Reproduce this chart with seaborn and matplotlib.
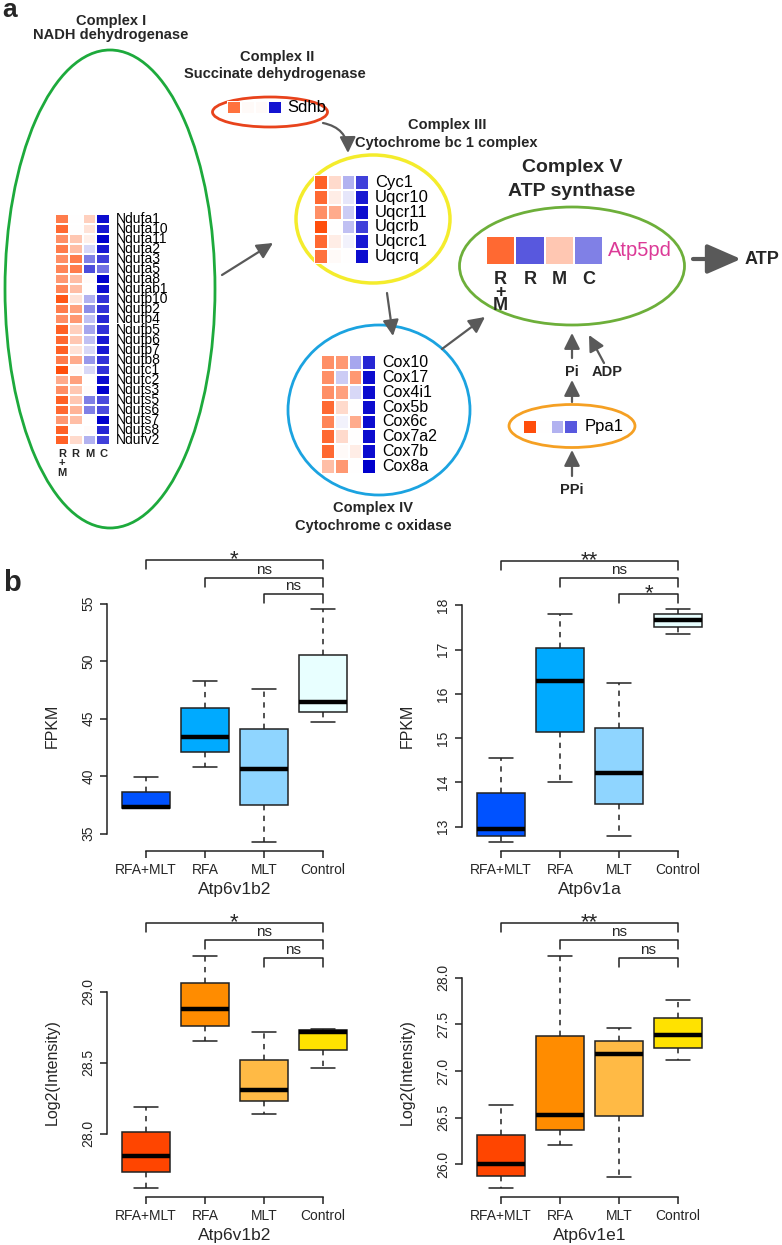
import numpy as np
import pandas as pd
import matplotlib
matplotlib.use("Agg")
import matplotlib.pyplot as plt
import seaborn as sns
from matplotlib.patches import Ellipse, FancyArrowPatch
from matplotlib.colors import LinearSegmentedColormap
from matplotlib import transforms

# ---------------- data ----------------
conds = ["R+M", "R", "M", "C"]

c1_genes = ["Ndufa1", "Ndufa10", "Ndufa11", "Ndufa2", "Ndufa3", "Ndufa5", "Ndufa8",
            "Ndufab1", "Ndufb10", "Ndufb2", "Ndufb4", "Ndufb5", "Ndufb6", "Ndufb7",
            "Ndufb8", "Ndufc1", "Ndufc2", "Ndufs3", "Ndufs5", "Ndufs6", "Ndufs7",
            "Ndufs8", "Ndufv2"]
c1_vals = [[0.70, 0.00, 0.25, -0.95], [0.80, 0.00, 0.15, -0.90], [0.60, 0.30, 0.08, -1.00],
           [0.70, 0.35, -0.15, -0.90], [0.60, 0.70, -0.50, -0.75], [0.65, 0.70, -0.70, -0.55],
           [0.55, 0.35, 0.02, -1.00], [0.65, 0.35, 0.00, -0.95], [0.90, 0.15, -0.30, -0.80],
           [0.70, 0.50, -0.45, -0.80], [0.60, 0.55, -0.25, -0.85], [0.85, 0.25, -0.35, -0.80],
           [0.80, 0.30, -0.25, -0.90], [0.85, 0.15, -0.15, -0.90], [0.70, 0.45, -0.40, -0.80],
           [0.95, 0.03, -0.15, -0.80], [0.45, 0.50, 0.00, -0.95], [0.60, 0.30, 0.02, -1.00],
           [0.85, 0.30, -0.50, -0.70], [0.80, 0.40, -0.50, -0.70], [0.55, 0.35, 0.00, -1.00],
           [0.85, 0.00, 0.02, -0.85], [0.85, 0.20, -0.30, -0.75]]

c2_genes = ["Sdhb"]
c2_vals = [[0.75, 0.03, 0.03, -0.92]]

c3_genes = ["Cyc1", "Uqcr10", "Uqcr11", "Uqcrb", "Uqcrc1", "Uqcrq"]
c3_vals = [[0.85, 0.20, -0.30, -0.75], [0.80, 0.10, -0.10, -0.90], [0.60, 0.45, -0.20, -0.95],
           [0.95, 0.00, -0.25, -0.75], [0.80, 0.10, -0.05, -0.90], [0.75, 0.03, 0.00, -0.95]]

c4_genes = ["Cox10", "Cox17", "Cox4i1", "Cox5b", "Cox6c", "Cox7a2", "Cox7b", "Cox8a"]
c4_vals = [[0.60, 0.55, -0.35, -0.85], [0.60, -0.20, 0.55, -0.95], [0.60, 0.50, -0.15, -0.95],
           [0.80, 0.20, 0.00, -0.95], [0.65, -0.05, 0.45, -0.95], [0.80, 0.20, 0.00, -0.95],
           [0.80, 0.03, 0.10, -0.95], [0.35, 0.55, 0.00, -1.00]]

c5_genes = ["Atp5pd"]
c5_vals = [[0.80, -0.65, 0.30, -0.50]]

ppa_genes = ["Ppa1"]
ppa_vals = [[0.95, 0.00, -0.30, -0.65]]

groups = ["RFA+MLT", "RFA", "MLT", "Control"]
# five-number summaries per group: min, q1, median, q3, max
atp6v1b2_fpkm = [[37.2, 37.2, 37.3, 38.6, 39.9], [40.8, 42.1, 43.4, 45.9, 48.3],
                 [34.3, 37.5, 40.6, 44.1, 47.6], [44.7, 45.6, 46.4, 50.5, 54.5]]
atp6v1a_fpkm = [[12.66, 12.80, 12.95, 13.76, 14.56], [14.01, 15.14, 16.29, 17.03, 17.80],
                [12.80, 13.51, 14.21, 15.23, 16.25], [17.36, 17.51, 17.67, 17.80, 17.91]]
atp6v1b2_int = [[27.62, 27.73, 27.84, 28.01, 28.19], [28.65, 28.76, 28.88, 29.06, 29.25],
                [28.14, 28.23, 28.31, 28.52, 28.72], [28.46, 28.59, 28.72, 28.73, 28.74]]
atp6v1e1_int = [[25.75, 25.88, 26.00, 26.31, 26.64], [26.21, 26.37, 26.53, 27.38, 28.23],
                [25.87, 26.52, 27.18, 27.32, 27.46], [27.12, 27.25, 27.39, 27.57, 27.76]]

ticks_b2_fpkm = [35, 40, 45, 50, 55]
ticks_a_fpkm = [13, 14, 15, 16, 17, 18]
ticks_b2_int = [28.0, 28.5, 29.0]
ticks_e1_int = [26.0, 26.5, 27.0, 27.5, 28.0]

sig_b2_fpkm = ["*", "ns", "ns"]
sig_a_fpkm = ["**", "ns", "*"]
sig_b2_int = ["*", "ns", "ns"]
sig_e1_int = ["**", "ns", "ns"]
pairs = [(0, 3), (1, 3), (2, 3)]

blue_pal = ["#0052FF", "#00AAFF", "#8FD5FF", "#E8FFFF"]
orange_pal = ["#FF4500", "#FF8C00", "#FFBA45", "#FFE200"]

# ---------------- setup ----------------
sns.set_style("ticks")
plt.rcParams["font.family"] = ["Liberation Sans", "DejaVu Sans"]

W, H = 782, 1245
fig = plt.figure(figsize=(W / 100, H / 100), dpi=100)
ax0 = fig.add_axes([0, 0, 1, 1])
ax0.set_xlim(0, W)
ax0.set_ylim(H, 0)
ax0.axis("off")


def fr(x, y, w, h):
    return [x / W, 1 - (y + h) / H, w / W, h / H]


cmap = LinearSegmentedColormap.from_list("rb", ["#0000CD", "#FFFFFF", "#FF4500"])


def heat(vals, genes, x, y, w, h, fs, pad=4.5, color="black", xlab=None, xfs=8, xpad=2, ls=0.8):
    ax = fig.add_axes(fr(x, y, w, h))
    df = pd.DataFrame(vals, index=genes, columns=conds)
    sns.heatmap(df, ax=ax, cmap=cmap, vmin=-1, vmax=1, cbar=False, linewidths=1.2,
                linecolor="white", xticklabels=True, yticklabels=True)
    ax.yaxis.tick_right()
    ax.set_yticklabels(genes, rotation=0, fontsize=fs, color=color, va="center")
    ax.tick_params(axis="y", length=0, pad=pad, labelright=True, labelleft=False)
    if xlab is None:
        ax.set_xticks([])
    else:
        ax.set_xticklabels(xlab, rotation=0, fontsize=xfs, fontweight="bold",
                           linespacing=ls, va="top")
        ax.tick_params(axis="x", length=0, pad=xpad)
    ax.set_xlabel("")
    ax.set_ylabel("")
    return ax


stack_labels = ["R\n+\nM", "R", "M", "C"]

# ---------------- panel a ----------------
ax0.text(10, 10, "a", fontsize=19, fontweight="bold", ha="center", va="center")

# ellipses
ax0.add_patch(Ellipse((110, 289), 210, 478, fill=False, ec="#1DAA3C", lw=2))
ax0.add_patch(Ellipse((270, 112), 115, 30, fill=False, ec="#E8431C", lw=2))
ax0.add_patch(Ellipse((373, 219), 154, 128, fill=False, ec="#F4EC2C", lw=2.5))
ax0.add_patch(Ellipse((379, 410), 182, 170, fill=False, ec="#1BA3E0", lw=2))
ax0.add_patch(Ellipse((572, 266), 225, 118, fill=False, ec="#6DAF3A", lw=2))
ax0.add_patch(Ellipse((572, 426), 126, 43, fill=False, ec="#F5A023", lw=2))

# titles
tkw = dict(ha="center", va="center", fontweight="bold", fontsize=10.5)
ax0.text(111, 20.5, "Complex I", **tkw)
ax0.text(111, 35, "NADH dehydrogenase", **tkw)
ax0.text(277, 57, "Complex II", **tkw)
ax0.text(275, 74, "Succinate dehydrogenase", **tkw)
ax0.text(447, 125, "Complex III", **tkw)
ax0.text(446, 143, "Cytochrome bc 1 complex", **tkw)
ax0.text(373, 508, "Complex IV", **tkw)
ax0.text(373, 526, "Cytochrome c oxidase", **tkw)
ax0.text(572, 168, "Complex V", ha="center", va="center", fontweight="bold", fontsize=14)
ax0.text(572, 192, "ATP synthase", ha="center", va="center", fontweight="bold", fontsize=14)
ax0.text(745, 260, "ATP", ha="left", va="center", fontweight="bold", fontsize=13)
ax0.text(572, 372, "Pi", ha="center", va="center", fontweight="bold", fontsize=10.5)
ax0.text(607, 372, "ADP", ha="center", va="center", fontweight="bold", fontsize=10.5)
ax0.text(572, 490, "PPi", ha="center", va="center", fontweight="bold", fontsize=10.5)

# arrows
akw = dict(arrowstyle="-|>,head_length=0.6,head_width=0.3", mutation_scale=16,
           color="#595959", lw=1.6, shrinkA=0, shrinkB=0)
for (p, q, cs) in [((323, 123), (348, 153), "arc3,rad=-0.4"),
                   ((222, 275), (273, 243), "arc3,rad=0"),
                   ((387, 293), (393, 336), "arc3,rad=0"),
                   ((442, 349), (485, 317), "arc3,rad=0"),
                   ((572, 358), (572, 333), "arc3,rad=0"),
                   ((604, 363), (589, 335), "arc3,rad=0"),
                   ((572, 402), (572, 380), "arc3,rad=0"),
                   ((572, 476), (572, 450), "arc3,rad=0")]:
    ax0.add_patch(FancyArrowPatch(p, q, connectionstyle=cs, **akw))
ax0.add_patch(FancyArrowPatch((693, 259), (741, 259),
                              arrowstyle="-|>,head_length=0.8,head_width=0.35",
                              mutation_scale=26, color="#595959", lw=3, shrinkA=0, shrinkB=0))

# heatmaps
heat(c1_vals, c1_genes, 55, 214, 55, 231, fs=10, pad=4.5, xlab=stack_labels, xfs=8, xpad=3, ls=0.9)
heat(c2_vals, c2_genes, 227, 101, 55, 13, fs=12, pad=4)
heat(c3_vals, c3_genes, 314, 175, 55, 89, fs=12, pad=4.5)
heat(c4_vals, c4_genes, 321, 355, 55, 119, fs=11.5, pad=4.5)
heat(c5_vals, c5_genes, 486, 236, 117, 29, fs=14.5, pad=3.5, color="#DC3A97",
     xlab=stack_labels, xfs=13, xpad=4, ls=0.72)
heat(ppa_vals, ppa_genes, 523, 420, 55, 14, fs=12, pad=4.5)

# ---------------- panel b ----------------
ax0.text(12, 583, "b", fontsize=21, fontweight="bold", ha="center", va="center")


def box_panel(rect, summ, pal, ticks, fmt, ylabel, xlabel, br_px, sigs):
    ax = fig.add_axes(fr(*rect))
    vals = np.concatenate(summ)
    df = pd.DataFrame({"group": np.repeat(groups, 5), "value": vals})
    sns.boxplot(data=df, x="group", y="value", hue="group", order=groups, hue_order=groups,
                palette=pal, saturation=1, whis=(0, 100), width=0.8, linecolor="#222222",
                linewidth=1.1, legend=False, ax=ax,
                whiskerprops=dict(linestyle=(0, (3.5, 3.5))),
                medianprops=dict(linewidth=3.2, color="black", solid_capstyle="butt"))
    lo, hi = vals.min(), vals.max()
    pad = 0.04 * (hi - lo)
    ax.set_ylim(lo - pad, hi + pad)
    ax.set_xlim(-0.66, 3.66)
    ax.set_yticks(ticks)
    ax.set_yticklabels([fmt.format(t) for t in ticks], rotation=90, va="center")
    ax.set_xticks(range(4))
    ax.set_xticklabels(groups)
    for s in ["top", "right"]:
        ax.spines[s].set_visible(False)
    for s in ["left", "bottom"]:
        ax.spines[s].set_linewidth(1.1)
        ax.spines[s].set_color("#222222")
    ax.spines["left"].set_bounds(ticks[0], ticks[-1])
    ax.spines["bottom"].set_bounds(0, 3)
    ax.tick_params(length=5, width=1.1, color="#222222", labelsize=10, pad=3.5)
    ax.set_ylabel(ylabel, fontsize=11.5)
    ax.set_xlabel(xlabel, fontsize=12.5)
    ax.yaxis.set_label_coords(-0.215, 0.5)
    ax.yaxis.label.set_va("center")
    ax.xaxis.set_label_coords(0.5, -0.155)
    ax.xaxis.label.set_va("center")
    tr = transforms.blended_transform_factory(ax.transData, fig.transFigure)
    for (i, j), ypx, lab in zip(pairs, br_px, sigs):
        yb = 1 - ypx / H
        yl = 1 - (ypx + 9) / H
        ax.plot([i, i, j, j], [yl, yb, yb, yl], transform=tr, color="#222222", lw=1.1,
                clip_on=False)
        if "*" in lab:
            ax.text((i + j) / 2, 1 - (ypx + 5) / H, lab, transform=tr, ha="center",
                    va="baseline", fontsize=16)
        else:
            ax.text((i + j) / 2, 1 - (ypx - 4) / H, lab, transform=tr, ha="center",
                    va="baseline", fontsize=11)
    return ax


box_panel((107, 600, 255, 251), atp6v1b2_fpkm, blue_pal, ticks_b2_fpkm, "{:.0f}", "FPKM",
          "Atp6v1b2", [560, 578, 594], sig_b2_fpkm)
box_panel((462, 600, 255, 251), atp6v1a_fpkm, blue_pal, ticks_a_fpkm, "{:.0f}", "FPKM",
          "Atp6v1a", [561, 578, 594], sig_a_fpkm)
box_panel((107, 947, 255, 250), atp6v1b2_int, orange_pal, ticks_b2_int, "{:.1f}",
          "Log2(Intensity)", "Atp6v1b2", [923, 940, 958], sig_b2_int)
box_panel((462, 947, 255, 250), atp6v1e1_int, orange_pal, ticks_e1_int, "{:.1f}",
          "Log2(Intensity)", "Atp6v1e1", [923, 940, 958], sig_e1_int)

fig.savefig("out.png", dpi=100)
